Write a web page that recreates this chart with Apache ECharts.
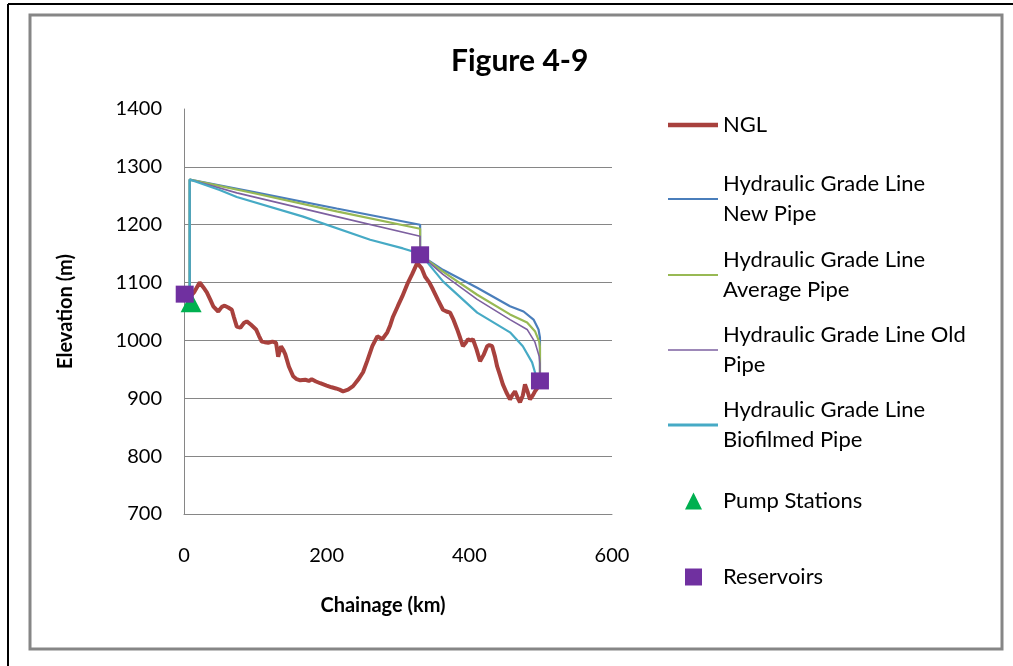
<!DOCTYPE html>
<html>
<head>
<meta charset="utf-8">
<script src="https://cdn.jsdelivr.net/npm/echarts@6/dist/echarts.min.js"></script>
<style>
html,body{margin:0;padding:0;background:#fff;}
#chart{width:1013px;height:666px;}
</style>
</head>
<body>
<div id="chart"></div>
<script>
// ---- data (chainage km, elevation m) ----
const seriesNames = [
  'NGL',
  'Hydraulic Grade Line New Pipe',
  'Hydraulic Grade Line Average Pipe',
  'Hydraulic Grade Line Old Pipe',
  'Hydraulic Grade Line Biofilmed Pipe',
  'Pump Stations',
  'Reservoirs'
];
const legendLabels = [
  'NGL',
  'Hydraulic Grade Line\nNew Pipe',
  'Hydraulic Grade Line\nAverage Pipe',
  'Hydraulic Grade Line Old\nPipe',
  'Hydraulic Grade Line\nBiofilmed Pipe',
  'Pump Stations',
  'Reservoirs'
];
const ngl = [[8,1075],[14,1083],[22,1100],[27,1092],[32,1083],[37,1070],[41,1059],[48,1050],[53,1058],[57,1060],[62,1057],[67,1053],[70,1040],[74,1024],[79,1022],[84,1030],[88,1033],[94,1027],[101,1019],[105,1008],[109,998],[113,997],[118,996],[124,998],[129,996],[132,972],[136,990],[139,984],[142,976],[147,955],[153,938],[158,933],[163,931],[170,932],[175,930],[179,933],[185,929],[191,926],[200,922],[207,919],[213,917],[218,915],[223,912],[230,915],[237,921],[244,932],[251,945],[257,965],[264,990],[271,1007],[274,1005],[278,1002],[285,1014],[289,1026],[293,1041],[300,1060],[306,1076],[314,1100],[320,1115],[327,1134],[333,1125],[338,1110],[344,1100],[349,1088],[356,1070],[363,1053],[368,1050],[373,1048],[378,1035],[383,1019],[387,1005],[391,990],[395,996],[398,1002],[402,1000],[405,1002],[410,985],[415,964],[420,975],[425,990],[428,992],[432,990],[436,972],[439,955],[443,940],[447,924],[452,910],[457,898],[460,905],[464,912],[468,900],[471,893],[475,905],[478,924],[482,910],[485,898],[489,905],[492,912],[496,919],[499,925]];
const hglNew = [[8,1080],[8,1278],[100,1256],[214,1228],[331,1200],[331,1148],[363,1122],[411,1091],[457,1059],[476,1050],[490,1036],[497,1019],[499,1005],[499,930]];
const hglAverage = [[8,1080],[8,1278],[100,1254],[214,1223],[331,1193],[331,1148],[363,1119],[411,1079],[457,1045],[481,1031],[492,1016],[498,998],[499,988],[499,930]];
const hglOld = [[8,1080],[8,1278],[74,1255],[214,1214],[331,1180],[331,1148],[363,1114],[411,1071],[457,1036],[481,1019],[492,997],[498,972],[499,960],[499,930]];
const hglBiofilmed = [[8,1080],[8,1278],[50,1260],[74,1248],[167,1214],[261,1174],[307,1159],[331,1150],[363,1102],[411,1048],[457,1014],[475,990],[488,962],[492,945],[494,935]];
const pumpStations = [[10,1066]];
const reservoirs = [[1,1080],[331,1148],[499,930]];
const yTicks = [800,900,1000,1100,1200,1300];

const FONT = 'Lato';
const lineColors = ['#A8413D','#4A7EBB','#98B954','#7D60A0','#46AAC5'];
const lineWidths = [4,2.2,2.2,1.6,2.2];
const lineData = [ngl,hglNew,hglAverage,hglOld,hglBiofilmed];

const chart = echarts.init(document.getElementById('chart'), null, {renderer:'canvas'});

const series = lineData.map((d,i)=>({
  name: seriesNames[i],
  type: 'line',
  data: d,
  symbol: 'none',
  showSymbol: false,
  smooth: false,
  silent: true,
  z: 2 + i,
  lineStyle: {color: lineColors[i], width: lineWidths[i]},
  itemStyle: {color: lineColors[i]},
  markLine: i === 0 ? {
    silent: true, symbol: 'none', label: {show:false},
    lineStyle: {color:'#868686', width:1, type:'solid'},
    z: 1,
    data: yTicks.map(v=>({yAxis:v}))
  } : undefined
}));
series.push({
  name: seriesNames[5], type:'scatter', data: pumpStations, symbol:'triangle',
  symbolSize:[21,20], itemStyle:{color:'#00B050', opacity:1}, z:10, silent:true
});
series.push({
  name: seriesNames[6], type:'scatter', data: reservoirs, symbol:'rect',
  symbolSize:[18,17], itemStyle:{color:'#7030A0', opacity:1}, z:11, silent:true
});

// legend layout: icon centre y for each entry
const legendCenters = [125,199,275,350,425,501,577];
const legendIconH = [4.5,2,2,1.5,3,17,17];
const legends = seriesNames.map((n,i)=>{
  const twoLine = legendLabels[i].indexOf('\n') >= 0;
  const isLine = i < 5;
  const textBoxH = twoLine ? 90 : 30;
  const ih = legendIconH[i];
  return {
    data: [{name: n, icon: i === 5 ? 'triangle' : 'rect',
            itemStyle: {color: i < 5 ? lineColors[i] : (i === 5 ? '#00B050' : '#7030A0'), opacity:1}}],
    orient: 'vertical',
    left: isLine ? 668 : 685,
    top: legendCenters[i] - textBoxH / 2,
    padding: 0,
    itemWidth: isLine ? 50 : 17,
    itemHeight: ih,
    selectedMode: false,
    formatter: name => legendLabels[seriesNames.indexOf(name)],
    textStyle: {
      fontFamily: FONT, fontSize: 22, color: '#000', lineHeight: 30,
      padding: [twoLine ? 30 : 0, 0, 0, isLine ? 0 : 16]
    }
  };
});

chart.setOption({
  animation: false,
  backgroundColor: '#fff',
  title: {
    text: 'Figure 4-9',
    left: 446, top: 41,
    textStyle: {fontFamily: FONT, fontWeight:'bold', fontSize: 30, color:'#000'}
  },
  legend: legends,
  grid: {left:184, top:109, right:401, bottom:152, containLabel:false},
  xAxis: {
    type:'value', min:0, max:600, interval:200,
    name:'Chainage (km)', nameLocation:'middle', nameGap:82,
    nameTextStyle:{fontFamily:FONT, fontWeight:'bold', fontSize:20, color:'#000', padding:[0,30,0,0]},
    axisLine:{show:true, lineStyle:{color:'#868686', width:1}},
    axisTick:{show:false},
    splitLine:{show:false},
    axisLabel:{fontFamily:FONT, fontSize:20, color:'#000', margin:32, formatter: v => String(v)}
  },
  yAxis: {
    type:'value', min:700, max:1400, interval:100,
    name:'Elevation (m)', nameLocation:'middle', nameGap:108, nameRotate:90,
    nameTextStyle:{fontFamily:FONT, fontWeight:'bold', fontSize:20, color:'#000'},
    axisLine:{show:true, lineStyle:{color:'#868686', width:1}},
    axisTick:{show:false},
    splitLine:{show:false},
    axisLabel:{fontFamily:FONT, fontSize:20, color:'#000', margin:22, formatter: v => String(v)}
  },
  graphic: [
    {type:'rect', shape:{x:30, y:15, width:972, height:634}, style:{fill:null, stroke:'#868686', lineWidth:3}, silent:true, z:-1},
    {type:'line', shape:{x1:8, y1:4, x2:1013, y2:4}, style:{stroke:'#000', lineWidth:2}, silent:true},
    {type:'line', shape:{x1:8, y1:4, x2:8, y2:666}, style:{stroke:'#000', lineWidth:2}, silent:true}
  ],
  series: series
});
</script>
</body>
</html>
